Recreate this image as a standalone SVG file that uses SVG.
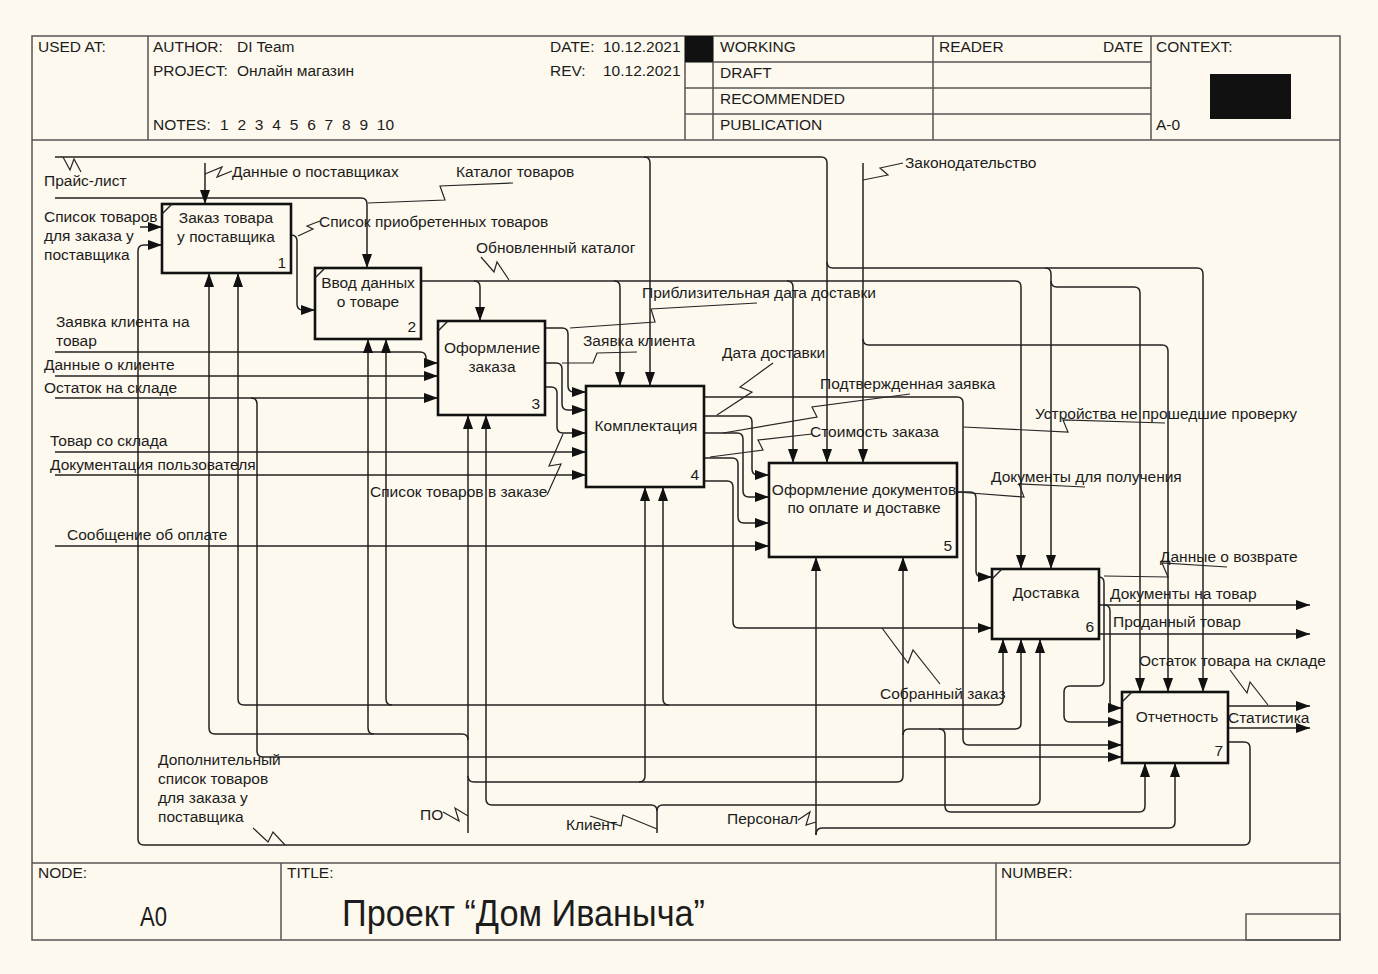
<svg xmlns="http://www.w3.org/2000/svg" width="1378" height="974" viewBox="0 0 1378 974">
<defs>
<marker id="ah" markerWidth="14" markerHeight="10" refX="14" refY="5" orient="auto" markerUnits="userSpaceOnUse"><path d="M0,0 L14,5 L0,10 z" fill="#111"/></marker>
<style>
.fr{fill:none;stroke:#555;stroke-width:1.5}
.ln{fill:none;stroke:#222;stroke-width:1.5}
.a{marker-end:url(#ah)}
.ld{fill:none;stroke:#262626;stroke-width:1.2}
.box{fill:#fdf9ee;stroke:#111;stroke-width:2.6}
.t{font-family:"Liberation Sans",Arial,sans-serif;font-size:15.5px;fill:#1c1c1c}
.h{font-family:"Liberation Sans",Arial,sans-serif;font-size:15.5px;fill:#1c1c1c}
.c{text-anchor:middle}
.e{text-anchor:end}
</style>
</defs>
<rect width="1378" height="974" fill="#fdf9ee"/>

<g id="frame">
<rect class="fr" x="32" y="36" width="1308" height="904"/>
<path class="fr" d="M32,140 H1340 M148,36 V140 M685,36 V140 M713,36 V140 M933,36 V140 M1151,36 V140 M685,62 H1151 M685,88 H1151 M685,114 H1151 M32,863 H1340 M281,863 V940 M996,863 V940"/>
<rect x="685" y="36" width="28" height="26" fill="#111"/>
<rect x="1210" y="74" width="81" height="45" fill="#111"/>
<rect class="fr" x="1246" y="914" width="94" height="26"/>
<text class="h" x="38" y="52">USED AT:</text>
<text class="h" x="153" y="52">AUTHOR:</text><text class="h" x="237" y="52">DI Team</text>
<text class="h" x="153" y="76">PROJECT:</text><text class="h" x="237" y="76">Онлайн магазин</text>
<text class="h" x="550" y="52">DATE:</text><text class="h" x="603" y="52">10.12.2021</text>
<text class="h" x="550" y="76">REV:</text><text class="h" x="603" y="76">10.12.2021</text>
<text class="h" x="153" y="130">NOTES:</text><text class="h" x="220" y="130" word-spacing="4.5">1 2 3 4 5 6 7 8 9 10</text>
<text class="h" x="720" y="52">WORKING</text>
<text class="h" x="720" y="78">DRAFT</text>
<text class="h" x="720" y="104">RECOMMENDED</text>
<text class="h" x="720" y="130">PUBLICATION</text>
<text class="h" x="939" y="52">READER</text>
<text class="h" x="1103" y="52">DATE</text>
<text class="h" x="1156" y="52">CONTEXT:</text>
<text class="h" x="1156" y="130">A-0</text>
<text class="h" x="38" y="878">NODE:</text>
<text class="h" x="287" y="878">TITLE:</text>
<text class="h" x="1001" y="878">NUMBER:</text>
<text class="h" x="140" y="926" style="font-size:27px" textLength="27" lengthAdjust="spacingAndGlyphs">A0</text>
<text class="h" x="342" y="926" style="font-size:37px" textLength="363" lengthAdjust="spacingAndGlyphs">Проект “Дом Иваныча”</text>
</g>

<g id="connectors">
<!-- Прайс-лист -->
<path class="ln a" d="M55,157 H644 Q650,157 650,163 V386"/>
<path class="ln a" d="M644,157 H821 Q827,157 827,163 V463"/>
<path class="ln a" d="M827,262 Q827,268 833,268 H1197 Q1203,268 1203,274 V692"/>
<path class="ln a" d="M1045,268 Q1051,268 1051,274 V569"/>
<path class="ln a" d="M1051,281 Q1051,287 1057,287 H1134 Q1140,287 1140,293 V692"/>
<path class="ld" d="M63,157 L70,170 L74,159 L81,172"/>
<!-- Каталог товаров -->
<path class="ln a" d="M55,198 H361 Q367,198 367,204 V268"/>
<path class="ld" d="M513,183 L440,186 L445,200 L368,203"/>
<!-- Данные о поставщиках -->
<path class="ln a" d="M205,163 V204"/>
<path class="ld" d="M205,174 L222,167 L217,177 L232,171"/>
<!-- Список товаров для заказа -->
<path class="ln a" d="M140,227 H162"/>
<!-- Loop box7 -> box1 -->
<path class="ln a" d="M1228,742 H1244 Q1250,742 1250,748 V839 Q1250,845 1244,845 H144 Q138,845 138,839 V251 Q138,245 144,245 H162"/>
<path class="ld" d="M253,828 L268,842 L273,832 L285,845"/>
<!-- box1 -> box2 -->
<path class="ln a" d="M291,235 Q297,235 297,241 V304 Q297,310 303,310 H315"/>
<path class="ld" d="M298,236 L313,229 L307,226 L320,221"/>
<!-- box2 out -->
<path class="ln a" d="M421,281 H1015 Q1021,281 1021,287 V569"/>
<path class="ln a" d="M474,281 Q480,281 480,287 V321"/>
<path class="ln a" d="M614,281 Q620,281 620,287 V386"/>
<path class="ln a" d="M787,281 Q793,281 793,287 V463"/>
<path class="ld" d="M481,257 L494,272 L497,262 L509,280"/>
<!-- Законодательство -->
<path class="ln a" d="M863,163 V463"/>
<path class="ln a" d="M863,339 Q863,345 869,345 H1162 Q1168,345 1168,351 V692"/>
<path class="ld" d="M863,180 L888,175 L880,168 L903,163"/>
<!-- box3 inputs -->
<path class="ln a" d="M55,352 H420 Q426,352 426,358 Q426,363 432,363 H438"/>
<path class="ln a" d="M55,376 H438"/>
<path class="ln a" d="M55,398 H438"/>
<path class="ln a" d="M251,398 Q257,398 257,404 V751 Q257,757 263,757 H1122"/>
<!-- box3 outputs -->
<path class="ln a" d="M545,328 H562 Q568,328 568,334 V386 Q568,392 574,392 H586"/>
<path class="ln a" d="M545,363 H556 Q562,363 562,369 V404 Q562,410 568,410 H586"/>
<path class="ln a" d="M545,387 H551 Q557,387 557,393 V427 Q557,433 563,433 H586"/>
<path class="ld" d="M570,328 L655,322 L651,309 L757,303"/>
<path class="ld" d="M562,363 L593,363 L597,353 L637,352"/>
<path class="ld" d="M547,495 L561,464 L549,466 L563,434"/>
<!-- box4 inputs -->
<path class="ln a" d="M55,452 H586"/>
<path class="ln a" d="M55,475 H586"/>
<!-- box4 outputs -->
<path class="ln a" d="M704,397 H957 Q963,397 963,403 V739 Q963,745 969,745 H1122"/>
<path class="ld" d="M963,427 L1068,432 L1063,420 L1165,423"/>
<path class="ln a" d="M704,416 H746 Q752,416 752,422 V469 Q752,475 758,475 H769"/>
<path class="ld" d="M717,415 L752,392 L740,387 L773,363"/>
<path class="ln a" d="M704,433 H737 Q743,433 743,439 V491 Q743,497 749,497 H769"/>
<path class="ld" d="M723,433 L817,417 L812,407 L910,394"/>
<path class="ln a" d="M704,458 H732 Q738,458 738,464 V517 Q738,523 744,523 H769"/>
<path class="ld" d="M710,457 L763,450 L758,440 L812,434"/>
<path class="ln a" d="M704,481 H727 Q733,481 733,487 V622 Q733,628 739,628 H992"/>
<path class="ld" d="M882,628 L908,663 L913,650 L940,684"/>
<!-- Сообщение об оплате -->
<path class="ln a" d="M55,546 H769"/>
<!-- box5 output -->
<path class="ln a" d="M957,492 H970 Q976,492 976,498 V571 Q976,577 982,577 H992"/>
<path class="ld" d="M957,492 L1024,497 L1019,484 L1085,487"/>
<!-- box6 outputs -->
<path class="ln a" d="M1099,577 Q1104,577 1104,583 V680 Q1104,686 1098,686 H1070 Q1064,686 1064,692 V716 Q1064,722 1070,722 H1122"/>
<path class="ld" d="M1104,576 L1168,577 L1162,563 L1227,567"/>
<path class="ln a" d="M1099,605 H1310"/>
<path class="ln a" d="M1104,605 Q1110,605 1110,611 V702 Q1110,708 1116,708 H1122"/>
<path class="ln a" d="M1099,634 H1310"/>
<!-- box7 outputs -->
<path class="ln a" d="M1228,706 H1310"/>
<path class="ld" d="M1230,670 L1247,693 L1250,682 L1268,705"/>
<path class="ln a" d="M1228,728 H1310"/>
<!-- ПО -->
<path class="ln a" d="M468,833 V415"/>
<path class="ln a" d="M468,740 Q468,734 462,734 H215 Q209,734 209,728 V273"/>
<path class="ln a" d="M374,734 Q368,734 368,728 V339"/>
<path class="ln a" d="M468,776 Q468,782 474,782 H639 Q645,782 645,776 V487"/>
<path class="ln a" d="M639,782 H897 Q903,782 903,776 V557"/>
<path class="ln a" d="M903,735 Q903,729 909,729 H1015 Q1021,729 1021,723 V639"/>
<path class="ln a" d="M939,729 Q945,729 945,735 V806 Q945,812 951,812 H1139 Q1145,812 1145,806 V763"/>
<path class="ld" d="M443,812 L459,821 L455,808 L468,816"/>
<!-- Клиент -->
<path class="ln a" d="M657,833 V811 Q657,805 651,805 H492 Q486,805 486,799 V415"/>
<path class="ln a" d="M657,811 Q657,805 663,805 H1034 Q1040,805 1040,799 V639"/>
<path class="ld" d="M590,816 L621,826 L623,815 L657,829"/>
<!-- Персонал -->
<path class="ln a" d="M816,835 V557"/>
<path class="ln a" d="M816,705 H244 Q238,705 238,699 V273"/>
<path class="ln a" d="M392,705 Q386,705 386,699 V339"/>
<path class="ln a" d="M669,705 Q663,705 663,699 V487"/>
<path class="ln a" d="M816,705 H997 Q1003,705 1003,699 V639"/>
<path class="ln a" d="M816,835 Q816,828 822,828 H1169 Q1175,828 1175,822 V763"/>
<path class="ld" d="M798,820 L810,812 L806,825 L816,822"/>
</g>

<g id="labels">
<text class="t" x="44" y="186">Прайс-лист</text>
<text class="t" x="232" y="177">Данные о поставщиках</text>
<text class="t" x="456" y="177">Каталог товаров</text>
<text class="t" x="44" y="222">Список товаров</text>
<text class="t" x="44" y="241">для заказа у</text>
<text class="t" x="44" y="260">поставщика</text>
<text class="t" x="319" y="227">Список приобретенных товаров</text>
<text class="t" x="476" y="253">Обновленный каталог</text>
<text class="t" x="642" y="298">Приблизительная дата доставки</text>
<text class="t" x="56" y="327">Заявка клиента на</text>
<text class="t" x="56" y="346">товар</text>
<text class="t" x="583" y="346">Заявка клиента</text>
<text class="t" x="722" y="358">Дата доставки</text>
<text class="t" x="44" y="370">Данные о клиенте</text>
<text class="t" x="44" y="393">Остаток на складе</text>
<text class="t" x="820" y="389">Подтвержденная заявка</text>
<text class="t" x="1035" y="419">Устройства не прошедшие проверку</text>
<text class="t" x="810" y="437">Стоимость заказа</text>
<text class="t" x="50" y="446">Товар со склада</text>
<text class="t" x="50" y="470">Документация пользователя</text>
<text class="t" x="991" y="482">Документы для получения</text>
<text class="t" x="370" y="497">Список товаров в заказе</text>
<text class="t" x="67" y="540">Сообщение об оплате</text>
<text class="t" x="1160" y="562">Данные о возврате</text>
<text class="t" x="1110" y="599">Документы на товар</text>
<text class="t" x="1113" y="627">Проданный товар</text>
<text class="t" x="1139" y="666">Остаток товара на складе</text>
<text class="t" x="880" y="699">Собранный заказ</text>
<text class="t" x="1228" y="723">Статистика</text>
<text class="t" x="158" y="765">Дополнительный</text>
<text class="t" x="158" y="784">список товаров</text>
<text class="t" x="158" y="803">для заказа у</text>
<text class="t" x="158" y="822">поставщика</text>
<text class="t" x="420" y="820">ПО</text>
<text class="t" x="566" y="830">Клиент</text>
<text class="t" x="727" y="824">Персонал</text>
<text class="t" x="905" y="168">Законодательство</text>
</g>

<g id="box1">
<rect class="box" x="162" y="204" width="129" height="69"/>
<path class="ln" d="M162,214 L172,204"/>
<text class="t c" x="226" y="223">Заказ товара</text>
<text class="t c" x="226" y="242">у поставщика</text>
<text class="t e" x="286" y="268">1</text>
</g>
<g id="box2">
<rect class="box" x="315" y="268" width="106" height="71"/>
<path class="ln" d="M315,278 L325,268"/>
<text class="t c" x="368" y="288">Ввод данных</text>
<text class="t c" x="368" y="307">о товаре</text>
<text class="t e" x="416" y="332">2</text>
</g>
<g id="box3">
<rect class="box" x="438" y="321" width="107" height="94"/>
<path class="ln" d="M438,331 L448,321"/>
<text class="t c" x="492" y="353">Оформление</text>
<text class="t c" x="492" y="372">заказа</text>
<text class="t e" x="540" y="409">3</text>
</g>
<g id="box4">
<rect class="box" x="586" y="386" width="118" height="101"/>
<text class="t c" x="646" y="431">Комплектация</text>
<text class="t e" x="699" y="480">4</text>
</g>
<g id="box5">
<rect class="box" x="769" y="463" width="188" height="94"/>
<text class="t c" x="864" y="495">Оформление документов</text>
<text class="t c" x="864" y="513">по оплате и доставке</text>
<text class="t e" x="952" y="551">5</text>
</g>
<g id="box6">
<rect class="box" x="992" y="569" width="107" height="70"/>
<path class="ln" d="M992,579 L1002,569"/>
<text class="t c" x="1046" y="598">Доставка</text>
<text class="t e" x="1094" y="632">6</text>
</g>
<g id="box7">
<rect class="box" x="1122" y="692" width="106" height="71"/>
<path class="ln" d="M1122,702 L1132,692"/>
<text class="t c" x="1177" y="722">Отчетность</text>
<text class="t e" x="1223" y="756">7</text>
</g>
</svg>
